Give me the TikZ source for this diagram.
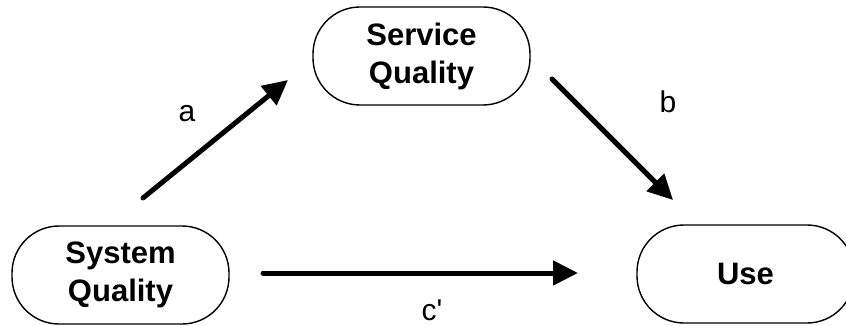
\documentclass[tikz,border=0pt]{standalone}
\usepackage{fontspec}
\setmainfont{Liberation Sans}
\usetikzlibrary{arrows.meta}
\begin{document}
\begin{tikzpicture}[x=1pt,y=-1pt,
  box/.style={draw=black, line width=1.4pt, rounded corners=47pt,
    minimum width=217pt, minimum height=98pt, inner sep=0pt,
    align=center, font=\fontsize{31}{38}\selectfont\bfseries},
  conn/.style={line width=5pt, line cap=round,
    -{Triangle[length=25pt,width=24pt]}},
  lbl/.style={font=\fontsize{30}{36}\selectfont, inner sep=0pt}]
\useasboundingbox (0,0) rectangle (846,326);
\node[box] (serv) at (421.5,56) {Service\\Quality};
\node[box] (sys) at (120.5,275) {System\\Quality};
\node[box] (use) at (745.5,274) {Use};
\coordinate (a0) at (143,198);
\coordinate (a1) at (288,80);
\coordinate (b0) at (552,79);
\coordinate (b1) at (673,200);
\coordinate (c0) at (263,273);
\coordinate (c1) at (578,273);
\draw[conn] (a0) -- (a1);
\draw[conn] (b0) -- (b1);
\draw[conn] (c0) -- (c1);
\node[lbl] (la) at (187,114) {a};
\node[lbl] (lb) at (668,102) {b};
\node[lbl] (lc) at (432,310) {c\textquotesingle};
\end{tikzpicture}
\end{document}
